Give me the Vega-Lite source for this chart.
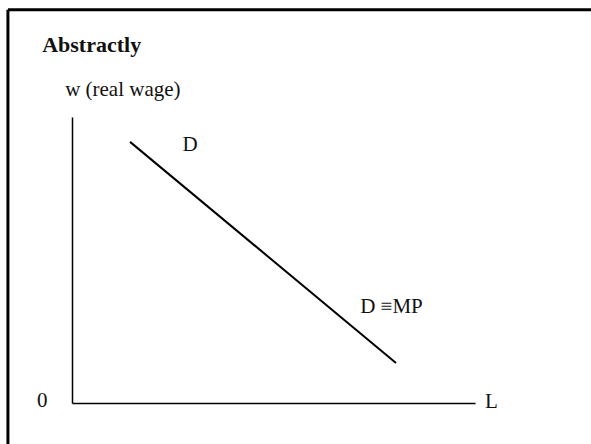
{
  "$schema": "https://vega.github.io/schema/vega-lite/v6.json",
  "width": 403,
  "height": 286,
  "autosize": {"type": "none"},
  "padding": {"left": 72, "top": 117, "right": 116, "bottom": 41},
  "background": "white",
  "config": {
    "view": {"stroke": null},
    "axis": {"domain": true, "domainColor": "black", "domainWidth": 1.5, "ticks": false, "labels": false, "grid": false, "title": null},
    "text": {"font": "Liberation Serif", "fontSize": 21, "color": "#111", "baseline": "middle"}
  },
  "datasets": {
    "frame": [
      {"x1": -15.9, "x2": 200, "y1": 137.5, "y2": 137.5},
      {"x1": -15.9, "x2": -15.9, "y1": 137.5, "y2": -40}
    ],
    "demand": [{"L": 14.4, "w": 91.3}, {"L": 80.4, "w": 14.0}],
    "centered": [
      {"L": 29.3, "w": 90.2, "text": "D"},
      {"L": -7.4, "w": 0.8, "text": "0"}
    ],
    "lefttext": [
      {"L": 71.5, "w": 33.6, "text": "D ≡MP"},
      {"L": 102.5, "w": 0.3, "text": "L"},
      {"L": -1.7, "w": 109.4, "text": "w (real wage)"}
    ],
    "boldtext": [
      {"L": -7.4, "w": 125.2, "text": "Abstractly"}
    ]
  },
  "encoding": {
    "x": {"field": "L", "type": "quantitative", "scale": {"domain": [0, 100], "nice": false, "zero": false}, "axis": {"orient": "bottom"}},
    "y": {"field": "w", "type": "quantitative", "scale": {"domain": [0, 100], "nice": false, "zero": false}, "axis": {"orient": "left"}}
  },
  "layer": [
    {
      "data": {"name": "frame"},
      "mark": {"type": "rule", "color": "black", "strokeWidth": 3, "clip": false},
      "encoding": {
        "x": {"field": "x1", "type": "quantitative", "scale": {"domain": [0, 100], "nice": false, "zero": false}, "axis": {"orient": "bottom"}},
        "x2": {"field": "x2"},
        "y": {"field": "y1", "type": "quantitative", "scale": {"domain": [0, 100], "nice": false, "zero": false}, "axis": {"orient": "left"}},
        "y2": {"field": "y2"}
      }
    },
    {
      "data": {"name": "demand"},
      "mark": {"type": "line", "color": "black", "strokeWidth": 2}
    },
    {
      "data": {"name": "centered"},
      "mark": {"type": "text", "align": "center", "font": "Liberation Serif", "clip": false},
      "encoding": {"text": {"field": "text"}}
    },
    {
      "data": {"name": "lefttext"},
      "mark": {"type": "text", "align": "left", "font": "Liberation Serif", "clip": false},
      "encoding": {"text": {"field": "text"}}
    },
    {
      "data": {"name": "boldtext"},
      "mark": {"type": "text", "align": "left", "font": "Liberation Serif", "fontSize": 22, "fontWeight": "bold", "clip": false},
      "encoding": {"text": {"field": "text"}}
    }
  ]
}
